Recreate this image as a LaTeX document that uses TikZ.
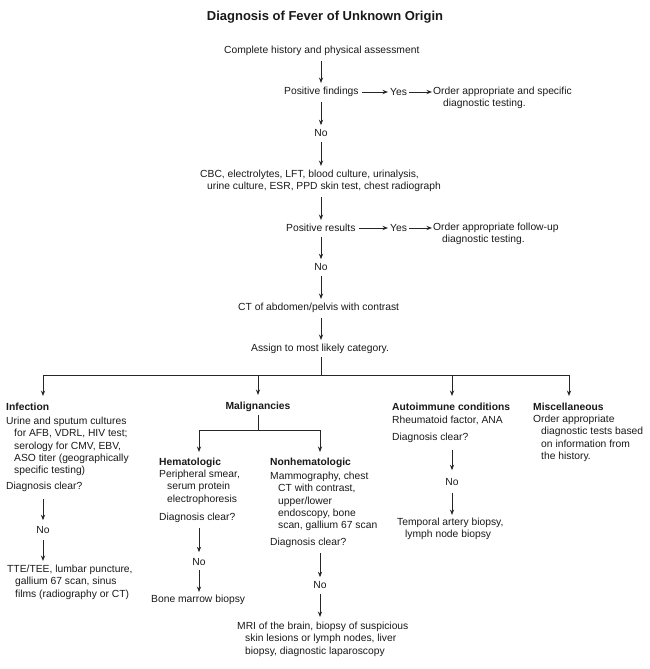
\documentclass[tikz,border=0pt]{standalone}
\usepackage{fontspec}
\setmainfont{Liberation Sans}
\usetikzlibrary{arrows.meta}
\newcommand{\fsz}{\fontsize{10.3}{12.2}\selectfont}
\newcommand{\ind}{\hspace*{8pt}}
\tikzset{
  txt/.style={inner sep=0pt, font=\fsz, align=left, text=black!90},
  hd/.style={txt, font=\fsz\bfseries},
  ln/.style={line width=0.9pt, draw=black!85},
  arr/.style={ln, ->, shorten <=5pt, shorten >=4pt},
}
\begin{document}
\begin{tikzpicture}[x=1pt, y=-1pt, line join=round, >={Stealth[length=5.5pt,width=4.2pt]}]
\useasboundingbox (0,0) rectangle (650,669);
\def\xs{321} % main column
\coordinate (spine) at (\xs,0);
% main column
\node[txt, font=\fontsize{13}{15}\selectfont\bfseries] (title) at (325,17) {Diagnosis of Fever of Unknown Origin};
\node[txt, anchor=west] (hist) at (224,51) {Complete history and physical assessment};
\node[txt, anchor=west] (pos1) at (284,92) {Positive findings};
\node[txt, anchor=west] (yes1) at (390,92) {Yes};
\node[txt, anchor=north west] (ord1) at (433,87) {Order appropriate and specific\\\hspace*{10pt}diagnostic testing.};
\node[txt] (no1) at (\xs,133) {No};
\node[txt, anchor=north west] (cbc) at (200,170) {CBC, electrolytes, LFT, blood culture, urinalysis,\\\hspace*{7pt}urine culture, ESR, PPD skin test, chest radiograph};
\node[txt, anchor=west] (pos2) at (286,228) {Positive results};
\node[txt, anchor=west] (yes2) at (390,228) {Yes};
\node[txt, anchor=north west] (ord2) at (433,223) {Order appropriate follow-up\\\hspace*{9pt}diagnostic testing.};
\node[txt] (no2) at (\xs,267) {No};
\node[txt, anchor=west] (ct) at (238,308) {CT of abdomen/pelvis with contrast};
\node[txt, anchor=west] (assign) at (251,349) {Assign to most likely category.};
\draw[arr] (hist.south -| spine) -- (pos1.north -| spine);
\draw[arr] (pos1.south -| spine) -- (no1);
\draw[arr] (no1) -- (cbc.north -| spine);
\draw[arr] (cbc.south -| spine) -- (pos2.north -| spine);
\draw[arr] (pos2.south -| spine) -- (no2);
\draw[arr] (no2) -- (ct.north -| spine);
\draw[arr] (ct.south -| spine) -- (assign.north -| spine);
\draw[arr, shorten <=3pt, shorten >=2pt] (pos1.east) -- (yes1.west);
\draw[arr, shorten <=2pt, shorten >=1pt] (yes1.east) -- (yes1.east -| ord1.west);
\draw[arr, shorten <=3pt, shorten >=2pt] (pos2.east) -- (yes2.west);
\draw[arr, shorten <=2pt, shorten >=1pt] (yes2.east) -- (yes2.east -| ord2.west);
% categories
\coordinate (b1) at (43,375); \coordinate (b2) at (258,375);
\coordinate (b3) at (452,375); \coordinate (b4) at (569,375);
\draw[ln, shorten <=3pt] (assign.south -| spine) -- (spine |- b1);
\draw[ln] (b1) -- (b4);
\node[hd, anchor=west] (inf) at (6,407) {Infection};
\node[hd] (mal) at (258,407) {Malignancies};
\node[hd, anchor=west] (auto) at (392,407) {Autoimmune conditions};
\node[hd, anchor=west] (misc) at (533,407) {Miscellaneous};
\foreach \b/\n in {b1/inf, b2/mal, b3/auto, b4/misc}
  \draw[arr, shorten <=0pt, shorten >=7pt] (\b) -- (\b |- \n.north);
% infection
\node[txt, anchor=north west] (infb) at (6,417) {Urine and sputum cultures\\\ind for AFB, VDRL, HIV test;\\\ind serology for CMV, EBV,\\\ind ASO titer (geographically\\\ind specific testing)};
\node[txt, anchor=west] (dc1) at (6,487) {Diagnosis clear?};
\node[txt] (no3) at (43,530) {No};
\node[txt, anchor=north west] (tte) at (7,565) {TTE/TEE, lumbar puncture,\\\ind gallium 67 scan, sinus\\\ind films (radiography or CT)};
\draw[arr, shorten <=7pt, shorten >=6pt] (dc1.south -| no3) -- (no3);
\draw[arr, shorten <=6pt] (no3) -- (no3 |- tte.north);
% malignancies
\coordinate (m1) at (199,430); \coordinate (m2) at (320,430);
\draw[ln, shorten <=3pt] (mal.south) -- (mal.south |- m1);
\draw[ln] (m1) -- (m2);
\node[hd, anchor=west] (hem) at (159,463) {Hematologic};
\node[hd, anchor=west] (nonh) at (270,463) {Nonhematologic};
\draw[arr, shorten <=0pt, shorten >=6pt] (m1) -- (m1 |- hem.north);
\draw[arr, shorten <=0pt, shorten >=6pt] (m2) -- (m2 |- nonh.north);
\node[txt, anchor=north west] (hemb) at (159,470) {Peripheral smear,\\\ind serum protein\\\ind electrophoresis};
\node[txt, anchor=west] (dc2) at (159,518) {Diagnosis clear?};
\node[txt] (no4) at (199,562) {No};
\node[txt, anchor=west] (bmb) at (151,600) {Bone marrow biopsy};
\draw[arr, shorten >=6pt] (dc2.south -| no4) -- (no4);
\draw[arr, shorten <=4pt, shorten >=3pt] (no4) -- (no4 |- bmb.north);
\node[txt, anchor=north west] (nonhb) at (270,472) {Mammography, chest\\\ind CT with contrast,\\\ind upper/lower\\\ind endoscopy, bone\\\ind scan, gallium 67 scan};
\node[txt, anchor=west] (dc3) at (270,543) {Diagnosis clear?};
\node[txt] (no5) at (320,585) {No};
\node[txt, anchor=north west] (mri) at (237,622) {MRI of the brain, biopsy of suspicious\\\ind skin lesions or lymph nodes, liver\\\ind biopsy, diagnostic laparoscopy};
\draw[arr] (dc3.south -| no5) -- (no5);
\draw[arr, shorten >=5pt] (no5) -- (no5 |- mri.north);
% autoimmune
\node[txt, anchor=west] (rf) at (392,420) {Rheumatoid factor, ANA};
\node[txt, anchor=west] (dc4) at (392,438) {Diagnosis clear?};
\node[txt] (no6) at (452,482) {No};
\node[txt, anchor=north west] (tab) at (397,518) {Temporal artery biopsy,\\\ind lymph node biopsy};
\draw[arr, shorten <=7pt, shorten >=8pt] (dc4.south -| no6) -- (no6);
\draw[arr, shorten <=7pt, shorten >=3pt] (no6) -- (no6 |- tab.north);
% miscellaneous
\node[txt, anchor=north west] (miscb) at (533,415) {Order appropriate\\\ind diagnostic tests based\\\ind on information from\\\ind the history.};
\end{tikzpicture}
\end{document}
